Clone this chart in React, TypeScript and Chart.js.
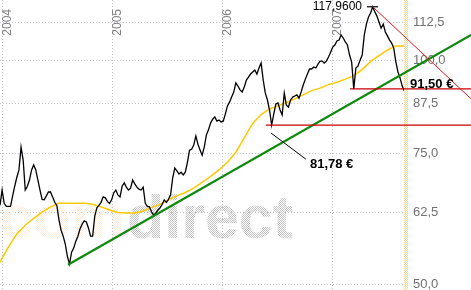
import React, { useEffect, useRef } from "react";
import { Chart, registerables } from "chart.js";
Chart.register(...registerables);

// ---------- data ----------
const EPOCH = "2004-01-01";
const axisFrom = "2003-12-23";
const axisTo = "2007-08-27";
const yearLabels = ["2004", "2005", "2006", "2007"];
const priceTicks = [50, 62.5, 75, 87.5, 100, 112.5];
const priceMin = 49.1;
const priceMax = 120.46;

// weekly closing prices, first week starting 2003-12-23
const weekStart = "2003-12-23";
const weeklyClose = [
  63.8, 66.9, 64.2, 63.6, 63.6, 63.6, 65.7, 67.7, 69.6, 71.2,
  76.4, 73.4, 66.9, 67.7, 69.0, 71.2, 72.3, 71.2, 69.0, 66.9,
  65.0, 64.9, 65.7, 66.5, 66.5, 65.5, 64.4, 63.8, 61.0, 59.1,
  58.0, 56.6, 54.5, 53.2, 55.2, 55.9, 57.1, 58.0, 59.3, 60.2,
  60.8, 60.6, 59.5, 58.0, 58.0, 61.7, 63.3, 63.8, 64.4, 65.5,
  65.3, 64.6, 64.2, 64.9, 66.3, 66.9, 65.9, 65.5, 67.7, 68.4,
  67.5, 66.9, 67.3, 69.0, 68.2, 67.5, 67.1, 66.9, 67.5, 64.2,
  63.6, 63.5, 62.5, 61.9, 62.3, 62.9, 63.3, 64.0, 64.9, 64.4,
  65.0, 65.9, 69.4, 71.6, 71.0, 70.3, 70.7, 70.1, 70.7, 72.9,
  75.7, 75.9, 76.9, 79.1, 77.1, 75.7, 74.5, 76.4, 79.3, 80.6,
  82.3, 83.3, 83.9, 82.8, 83.1, 82.6, 82.8, 84.6, 86.8, 87.8,
  89.2, 90.6, 93.2, 92.3, 91.2, 90.6, 92.0, 94.0, 94.9, 95.8,
  96.4, 97.0, 95.8, 97.6, 99.1, 94.0, 90.3, 88.4, 85.7, 81.8,
  84.6, 87.3, 87.6, 85.7, 84.4, 90.3, 87.0, 86.5, 88.4, 89.2,
  89.5, 89.8, 88.9, 90.6, 92.6, 94.3, 95.8, 97.3, 97.3, 97.9,
  97.6, 98.8, 99.7, 99.7, 99.1, 99.7, 101.0, 102.5, 104.1, 104.8,
  106.1, 106.4, 108.1, 107.1, 105.8, 104.8, 101.6, 99.4, 91.5, 97.6,
  98.2, 100.0, 101.6, 108.1, 111.8, 114.3, 115.7, 117.96, 116.1, 114.6,
  112.5, 110.4, 111.8, 109.1, 107.8, 106.4, 105.4, 103.8, 99.4, 96.4,
  94.6, 92.3, 90.9,
];

// moving average, one value every 28 days
const maStart = "2003-12-23";
const maStepDays = 28;
const movingAvg = [
  53.5, 56.1, 58.4, 60.0, 61.3, 62.5, 63.5, 64.2, 64.2, 64.2,
  64.2, 64.0, 63.5, 62.9, 62.4, 62.3, 62.3, 62.7, 63.4, 64.0,
  64.9, 65.7, 66.4, 67.3, 68.5, 69.8, 71.2, 72.9, 75.2, 78.6,
  82.2, 84.5, 86.0, 86.8, 87.7, 88.7, 89.8, 91.0, 91.7, 92.7,
  93.4, 94.3, 95.3, 97.1, 99.6, 101.4, 103.2, 104.5, 104.5,
];

// trend lines / annotations
const upTrendDates = ["2004-08-05", "2008-04-06"];
const upTrendValues = [53.1, 108.1];
const downTrendDates = ["2007-05-15", "2008-04-06"];
const downTrendValues = [117.96, 88.7];
const supportHigh = 91.5;
const supportHighDates = ["2007-03-01", "2008-04-06"];
const supportLow = 81.78;
const supportLowDates = ["2006-05-25", "2008-04-06"];
const leaderDates = ["2006-06-11", "2006-10-05"];
const leaderValues = [79.8, 73.6];
const highValue = 117.96;
const highMarkDates = ["2007-04-26", "2007-06-02"];

// ---------- helpers ----------
const day = (s: string) => (Date.parse(s) - Date.parse(EPOCH)) / 86400000;
const pts = (dates: string[], vals: number[]) =>
  dates.map((d, i) => ({ x: day(d), y: vals[i] }));
const de = (v: number, digits: number) => v.toFixed(digits).replace(".", ",");
const FONT = '"Liberation Sans", Arial, Helvetica, sans-serif';

function checker(ctx: CanvasRenderingContext2D, color: string, bg?: string) {
  const c = document.createElement("canvas");
  c.width = 2;
  c.height = 2;
  const g = c.getContext("2d")!;
  if (bg) {
    g.fillStyle = bg;
    g.fillRect(0, 0, 2, 2);
  }
  g.fillStyle = color;
  g.fillRect(0, 0, 1, 1);
  g.fillRect(1, 1, 1, 1);
  return ctx.createPattern(c, "repeat")!;
}

const decor = {
  id: "decor",
  beforeDatasetsDraw(chart: any) {
    const { ctx, chartArea: a, scales } = chart;
    const x = scales.x;
    ctx.save();
    // watermark
    ctx.font = `bold 61px ${FONT}`;
    ctx.textBaseline = "alphabetic";
    ctx.textAlign = "left";
    ctx.fillStyle = checker(ctx, "#c4c4c4");
    ctx.fillText("direct", 127, 238);
    ctx.textAlign = "right";
    ctx.fillStyle = checker(ctx, "#ffeedd");
    ctx.fillText("com", 125, 238);
    // right band
    ctx.fillStyle = checker(ctx, "#f9d690", "#ffffff");
    ctx.fillRect(a.right, 0, 4, chart.height);
    // year labels
    ctx.fillStyle = "#808080";
    ctx.font = `12px ${FONT}`;
    yearLabels.forEach((yr) => {
      const px = x.getPixelForValue(day(yr + "-01-01"));
      ctx.save();
      ctx.translate(px - 1, 9);
      ctx.rotate(-Math.PI / 2);
      ctx.textAlign = "right";
      ctx.textBaseline = "top";
      ctx.fillText(yr, 0, 0);
      ctx.restore();
    });
    ctx.restore();
  },
  afterDatasetsDraw(chart: any) {
    const { ctx, chartArea: a, scales } = chart;
    const x = scales.x;
    const y = scales.y;
    ctx.save();
    ctx.fillStyle = "#000";
    ctx.font = `12px ${FONT}`;
    ctx.textAlign = "right";
    ctx.textBaseline = "middle";
    ctx.fillText(
      de(highValue, 4),
      x.getPixelForValue(day(highMarkDates[0])) - 5,
      y.getPixelForValue(highValue)
    );
    ctx.font = `bold 13px ${FONT}`;
    ctx.textAlign = "left";
    ctx.textBaseline = "alphabetic";
    ctx.fillText(de(supportHigh, 2) + " €", a.right + 6, y.getPixelForValue(supportHigh) - 1);
    ctx.fillText(
      de(supportLow, 2) + " €",
      x.getPixelForValue(day(leaderDates[1])) + 4,
      y.getPixelForValue(leaderValues[1]) + 9
    );
    ctx.restore();
  },
};

export default function App() {
  const ref = useRef<HTMLCanvasElement | null>(null);
  useEffect(() => {
    if (!ref.current) return;
    const line = (extra: any) => ({
      pointRadius: 0,
      tension: 0,
      fill: false,
      ...extra,
    });
    const chart = new Chart(ref.current, {
      type: "line",
      data: {
        datasets: [
          line({
            label: "Kurs",
            data: weeklyClose.map((v, i) => ({ x: day(weekStart) + 7 * i, y: v })),
            borderColor: "#000000",
            borderWidth: 1.3,
            order: 5,
          }),
          line({
            label: "GD",
            data: movingAvg.map((v, i) => ({ x: day(maStart) + maStepDays * i, y: v })),
            borderColor: "#ffc800",
            borderWidth: 1.5,
            order: 8,
          }),
          line({
            label: "up",
            data: pts(upTrendDates, upTrendValues),
            borderColor: "#0d8a0d",
            borderWidth: 2.2,
            clip: false,
            order: 2,
          }),
          line({
            label: "down",
            data: pts(downTrendDates, downTrendValues),
            borderColor: "#e41818",
            borderWidth: 1,
            clip: false,
            order: 1,
          }),
          line({
            label: "s1",
            data: pts(supportHighDates, [supportHigh, supportHigh]),
            borderColor: "#c80000",
            borderWidth: 1.3,
            clip: false,
            order: 1,
          }),
          line({
            label: "s2",
            data: pts(supportLowDates, [supportLow, supportLow]),
            borderColor: "#c80000",
            borderWidth: 1.3,
            clip: false,
            order: 1,
          }),
          line({
            label: "leader",
            data: pts(leaderDates, leaderValues),
            borderColor: "#000000",
            borderWidth: 1,
            clip: false,
            order: 1,
          }),
          line({
            label: "high",
            data: pts(highMarkDates, [highValue, highValue]),
            borderColor: "#000000",
            borderWidth: 1.2,
            clip: false,
            order: 1,
          }),
        ],
      },
      options: {
        responsive: false,
        animation: false,
        events: [],
        layout: { padding: 0 },
        plugins: { legend: { display: false }, tooltip: { enabled: false } },
        scales: {
          x: {
            type: "linear",
            position: "bottom",
            min: day(axisFrom),
            max: day(axisTo),
            afterBuildTicks: (s: any) => {
              s.ticks = yearLabels.map((yr) => ({ value: day(yr + "-01-01") }));
            },
            afterFit: (s: any) => {
              s.height = 0;
              s.paddingLeft = 0;
              s.paddingRight = 0;
            },
            ticks: { display: false },
            grid: { color: "#c0c0c0", drawTicks: false, lineWidth: 1 },
            border: { display: false, dash: [1, 2] },
          },
          y: {
            type: "logarithmic",
            position: "right",
            min: priceMin,
            max: priceMax,
            afterBuildTicks: (s: any) => {
              s.ticks = priceTicks.map((v) => ({ value: v }));
            },
            afterFit: (s: any) => {
              s.width = 67;
              s.paddingTop = 0;
              s.paddingBottom = 0;
            },
            ticks: {
              callback: (v: any) => de(Number(v), 1),
              color: "#707070",
              font: { family: FONT, size: 13 },
              padding: 9,
              autoSkip: false,
            },
            grid: { color: "#c4c4d4", drawTicks: false, lineWidth: 1 },
            border: { display: false, dash: [1, 2] },
          },
        },
      },
      plugins: [decor],
    } as any);
    return () => chart.destroy();
  }, []);
  return (
    <div style={{ position: "fixed", left: 0, top: 0, width: 471, height: 290, background: "#fff" }}>
      <canvas ref={ref} width={471} height={290} style={{ display: "block" }} />
    </div>
  );
}
